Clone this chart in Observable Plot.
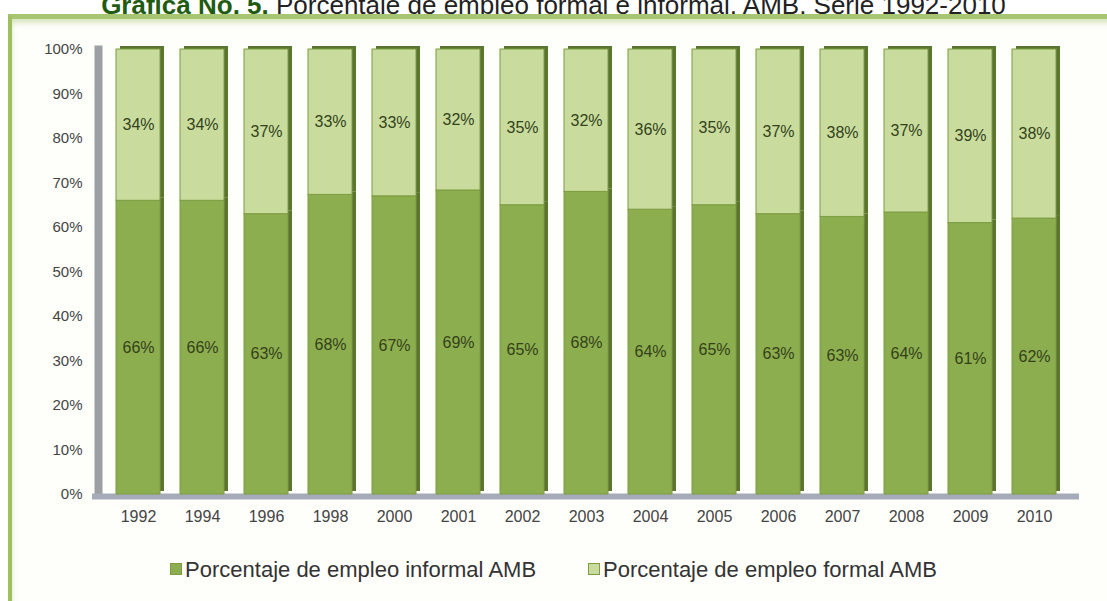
<!DOCTYPE html>
<html>
<head>
<meta charset="utf-8">
<script src="https://cdn.jsdelivr.net/npm/d3@7"></script>
<script src="https://cdn.jsdelivr.net/npm/@observablehq/plot@0.6"></script>
<style>
  html, body { margin: 0; padding: 0; background: #ffffff; width: 1107px; height: 601px; overflow: hidden; font-family: "Liberation Sans", Arial, sans-serif; }
  #title { position: absolute; left: 0; width: 1107px; top: -9px; text-align: center; font-size: 26px; line-height: 29px; color: #222; white-space: nowrap; }
  #title b { color: #1f5c12; }
  #box { position: absolute; left: 8px; top: 14px; width: 1110px; height: 600px; background: #fefefa;
         border-left: 4px solid #9dbf5c; border-top: 5px solid #a8c672;
         box-shadow: inset 0 4px 5px rgba(150,185,90,0.35); }
  #chart { position: absolute; left: 0; top: 0; }
  #legend { position: absolute; top: 557px; left: 0; width: 1107px; text-align: center; font-size: 22px; color: #333; }
  #legend span.item { margin: 0 26px; }
  #legend i { display: inline-block; width: 10px; height: 10px; margin-right: 3px; vertical-align: 2px; }
</style>
</head>
<body>
<div id="title"><b>Gráfica No. 5.</b> Porcentaje de empleo formal e informal, AMB. Serie 1992-2010</div>
<div id="box"></div>
<div id="chart"></div>
<div id="legend"></div>
<script>
const years = ["1992","1994","1996","1998","2000","2001","2002","2003","2004","2005","2006","2007","2008","2009","2010"];
const informal = [66,66,63,68,67,69,65,68,64,65,63,63,64,61,62];
const formal   = [34,34,37,33,33,32,35,32,36,35,37,38,37,39,38];
const seriesNames = ["Porcentaje de empleo informal AMB", "Porcentaje de empleo formal AMB"];
const seriesColors = ["#8dae4e", "#c9dc9d"];
const yTicks = [0,0.1,0.2,0.3,0.4,0.5,0.6,0.7,0.8,0.9,1];

const data = [];
years.forEach((yr, i) => {
  data.push({year: yr, series: seriesNames[0], value: informal[i]});
  data.push({year: yr, series: seriesNames[1], value: formal[i]});
});

const stackOpts = {x: "year", y: "value", z: "series", offset: "normalize", order: seriesNames};

const chart = Plot.plot({
  width: 1107,
  height: 540,
  marginTop: 49,
  marginBottom: 46,
  marginLeft: 92,
  marginRight: 28,
  style: {background: "transparent", fontFamily: "'Liberation Sans', Arial, sans-serif"},
  x: {domain: years, paddingInner: 0.32, paddingOuter: 0.3, label: null},
  y: {domain: [0, 1], label: null},
  color: {domain: seriesNames, range: seriesColors},
  marks: [
    // back wall and floor
    Plot.frame({anchor: "left", stroke: "#9c9fa3", strokeWidth: 8, dx: 6}),
    Plot.ruleY([0], {stroke: "#a5abb8", strokeWidth: 6, dy: 2}),
    // 3D side/top face
    Plot.barY(data, Plot.stackY({...stackOpts, fill: "#5b7530", dx: 4, dy: -3})),
    // front faces
    Plot.barY(data, Plot.stackY({...stackOpts, fill: "series", stroke: "#7d9c43", strokeWidth: 1})),
    Plot.text(data, Plot.stackY({...stackOpts, text: d => d.value + "%", fill: "#33421a", fontSize: 16})),
    Plot.axisY({ticks: yTicks, tickFormat: d3.format(".0%"), tickSize: 0, tickPadding: 10, fontSize: 15, color: "#444"}),
    Plot.axisX({tickSize: 0, tickPadding: 16, fontSize: 16, color: "#444"})
  ]
});
document.getElementById("chart").appendChild(chart);

const legend = document.getElementById("legend");
seriesNames.forEach((name, i) => {
  const s = document.createElement("span");
  s.className = "item";
  s.innerHTML = `<i style="background:${seriesColors[i]};border:1px solid #7d9c43"></i>${name}`;
  legend.appendChild(s);
});
</script>
</body>
</html>
